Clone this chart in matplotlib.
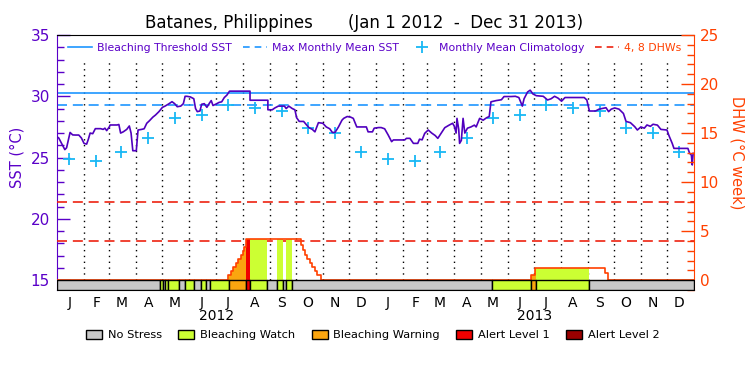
import numpy as np
import pandas as pd
import matplotlib
matplotlib.use("Agg")
import matplotlib.pyplot as plt
from matplotlib.lines import Line2D
from matplotlib.patches import Patch
from matplotlib.ticker import MultipleLocator


# DATA

START = "2012-01-01"
END = "2013-12-31"
MONTH_LABELS = list("JFMAMJJASOND")
YEARS = ["2012", "2013"]

# monthly mean climatology (degC), Jan..Dec
CLIM_SST = [24.86, 24.75, 25.43, 26.57, 28.20, 28.47, 29.25, 29.07, 28.80, 27.44, 26.98, 25.43]
MMM = 29.25
THRESHOLD = 30.25
DHW_LINES = [4, 8]

# daily SST (day since Jan 1 2012, degC)
SST_DAY = [0, 2, 5, 9, 11, 15, 18, 21, 25, 28, 31, 34, 36, 38, 41, 44, 50, 53, 55, 57, 60,
           61, 69, 71, 73, 76, 80, 83, 85, 87, 91, 93, 97, 100, 103, 106, 110, 113, 117,
           121, 124, 128, 132, 135, 138, 142, 145, 147, 149, 153, 157, 159, 161, 164, 166,
           169, 172, 175, 177, 179, 182, 186, 189, 192, 195, 198, 221.5, 221.5, 242, 242,
           247, 250, 254, 261, 263, 266, 270, 273, 275, 278, 283, 286, 289, 293, 296, 300,
           305, 309, 313, 316, 319, 323, 327, 329, 333, 337, 340, 344, 355, 357, 362, 364,
           369, 372, 376, 380, 384, 386, 399, 401, 405, 409, 414, 416, 419, 422, 426, 430,
           434, 437, 441, 445, 450, 454, 456, 458, 459, 461, 462, 464, 466, 468, 471, 475,
           479, 481, 485, 489, 493, 496, 498, 504, 510, 513, 521, 526, 530, 534, 536, 540,
           543, 546, 550, 558, 563, 567, 571, 575, 579, 583, 605, 608, 611, 618, 622, 630,
           633, 636, 640, 645, 650, 653, 658, 663, 666, 670, 674, 677, 681, 684, 689, 693,
           700, 702, 706, 708, 724, 726, 728, 729, 730]
SST_VAL = [26.70, 26.60, 26.20, 25.65, 25.80, 27.05, 26.85, 26.84, 26.84, 26.60, 26.16, 26.10,
           26.50, 27.00, 26.95, 27.36, 27.36, 27.30, 27.40, 27.20, 27.50, 27.66, 27.66, 27.70,
           27.00, 27.10, 27.30, 27.58, 27.00, 25.56, 25.56, 27.25, 27.30, 27.35, 27.80, 28.00,
           28.30, 28.47, 28.75, 29.10, 29.20, 29.37, 29.56, 29.40, 29.15, 29.20, 29.40, 30.00,
           30.00, 29.95, 29.80, 29.00, 28.75, 28.80, 29.35, 29.40, 29.10, 29.45, 29.65, 29.25,
           29.35, 29.50, 29.55, 29.90, 30.10, 30.42, 30.42, 29.68, 29.68, 28.90, 28.90, 29.05,
           29.20, 29.20, 29.00, 29.20, 29.00, 28.90, 28.25, 27.95, 27.95, 27.70, 27.45, 27.30,
           27.10, 27.85, 27.80, 27.50, 27.35, 27.05, 27.05, 27.50, 28.05, 28.20, 28.35, 28.30,
           28.20, 27.50, 27.50, 27.10, 27.10, 27.40, 27.45, 27.45, 27.35, 26.85, 26.30, 26.44,
           26.44, 26.57, 26.57, 26.16, 26.16, 26.50, 26.45, 26.98, 27.25, 27.00, 26.80, 26.57,
           27.00, 27.44, 27.65, 27.80, 27.55, 27.00, 28.20, 27.30, 26.16, 26.40, 28.20, 27.00,
           27.40, 27.50, 27.65, 27.50, 28.20, 28.05, 28.25, 28.35, 29.55, 29.65, 29.72, 29.98,
           29.98, 30.00, 29.90, 29.20, 29.80, 30.35, 30.50, 30.20, 30.05, 30.00, 29.70, 29.80,
           30.00, 29.85, 29.60, 29.90, 29.90, 29.70, 28.80, 28.80, 28.95, 29.07, 28.75, 28.95,
           29.05, 28.95, 28.60, 27.95, 27.85, 27.52, 27.25, 27.50, 27.40, 27.66, 27.55, 27.72,
           27.65, 27.30, 27.25, 26.84, 26.16, 25.75, 25.75, 25.35, 25.20, 24.40, 25.35]

# degree heating weeks (step values starting at each day)
DHW_DAY = [0, 196.6, 199.7, 202.3, 205.1, 208.1, 210.8, 213.1, 215.0, 216.9,
           279.7, 281.9, 284.6, 287.2, 290.3, 292.9, 296.1, 298.7, 302.6,
           543.6, 548.5, 629.0, 632.0]
DHW_VAL = [0, 0.56, 0.90, 1.35, 1.79, 2.20, 2.60, 2.95, 3.39, 4.17,
           3.56, 3.05, 2.60, 2.20, 1.76, 1.35, 0.90, 0.56, 0,
           0.50, 1.21, 0.75, 0]

# daily stress level: 0 no stress, 1 watch, 2 warning, 3 alert 1, 4 alert 2
STRESS_START = [0, 118, 122, 124, 127, 140, 147, 157, 165, 171, 176, 197, 217, 221, 241, 252, 259, 263, 270, 499, 544, 550, 611]
STRESS_END = [118, 122, 124, 127, 140, 147, 157, 165, 171, 176, 197, 217, 221, 241, 252, 259, 263, 270, 499, 544, 550, 611, 731]
STRESS_LEVEL = [0, 1, 0, 1, 1, 0, 1, 0, 1, 0, 1, 2, 3, 1, 0, 1, 0, 1, 0, 1, 2, 1, 0]

STRESS_NAMES = ["No Stress", "Bleaching Watch", "Bleaching Warning", "Alert Level 1", "Alert Level 2"]
STRESS_COLORS = ["#C8C8C8", "#CCFF33", "#FAA50F", "#F00000", "#990000"]


# STYLE

PURPLE = "#5A00C8"
SST_COLOR = "#5000BE"
BLUE = "#1E96FF"
CYAN = "#18B8F5"
ORANGE = "#FF4000"
DASH_RED = "#EE2211"

plt.rcParams["font.family"] = ["DejaVu Sans"]


# DAYS

t0 = pd.Timestamp(START)
total_days = (pd.Timestamp(END) - t0).days + 1
month_starts = np.array((pd.date_range(START, END, freq="MS") - t0).days)
mid_months = month_starts + 14
clim_y = CLIM_SST * len(YEARS)


def dhw_at(x):
    idx = np.searchsorted(DHW_DAY, x, side="right") - 1
    return np.array(DHW_VAL)[idx]


# PLOT

fig = plt.figure(figsize=(7.5, 3.75), dpi=100)
ax = fig.add_axes([57 / 750, 85 / 375, 637 / 750, 255 / 375])
ax2 = ax.twinx()

ax.set_xlim(0, total_days)
ax.set_ylim(14.2, 35.0)
ax2.set_ylim(-1.0, 25.0)

# month separators
ax.vlines(month_starts[1:], 15, 32.8, colors="black", linestyles=(0, (1, 3.2)), lw=1.0, zorder=1)

# climatology lines and crosses
ax.axhline(THRESHOLD, color=BLUE, lw=1.2, zorder=2)
ax.axhline(MMM, color=BLUE, lw=1.2, ls=(0, (6, 3.5)), zorder=2)
ax.plot(mid_months, clim_y, ls="none", marker="+", ms=9, mew=1.3, color=CYAN, zorder=3)

# SST
ax.plot(SST_DAY, SST_VAL, color=SST_COLOR, lw=1.2, zorder=4)

# DHW thresholds
for lvl in DHW_LINES:
    ax2.axhline(lvl, color=DASH_RED, lw=1.2, ls=(0, (6, 3.5)), zorder=2)

# stress fill under DHW
for s, e, lev in zip(STRESS_START, STRESS_END, STRESS_LEVEL):
    if lev == 0:
        continue
    xs = [s] + [d for d in DHW_DAY if s < d < e] + [e]
    ax2.fill_between(xs, 0, dhw_at(xs), step="post", color=STRESS_COLORS[lev], lw=0, zorder=3)

# DHW line
ax2.step(DHW_DAY + [total_days], DHW_VAL + [0], where="post", color=ORANGE, lw=1.2, zorder=4)

# stress band
for s, e, lev in zip(STRESS_START, STRESS_END, STRESS_LEVEL):
    ax2.broken_barh([(s, e - s)], (-1.0, 1.0), facecolors=STRESS_COLORS[lev],
                    edgecolors="black", lw=1.0, zorder=5)

# AXES

ax.yaxis.set_major_locator(MultipleLocator(5))
ax.yaxis.set_minor_locator(MultipleLocator(1))
ax2.yaxis.set_major_locator(MultipleLocator(5))
ax2.yaxis.set_minor_locator(MultipleLocator(1))

ax.tick_params(axis="y", which="both", direction="in", colors=PURPLE, labelsize=11, pad=5)
ax.tick_params(axis="y", which="major", length=9.5, width=1)
ax.tick_params(axis="y", which="minor", length=5, width=1)
ax2.tick_params(axis="y", which="both", direction="in", colors=ORANGE, labelsize=11, pad=4)
ax2.tick_params(axis="y", which="major", length=9.5, width=1)
ax2.tick_params(axis="y", which="minor", length=5, width=1)

ax.set_xticks(mid_months)
ax.set_xticklabels(MONTH_LABELS * len(YEARS))
ax.tick_params(axis="x", length=0, pad=4, labelsize=10)

for i, yr in enumerate(YEARS):
    ax.text(mid_months[12 * i + 5] + 17, -0.10, yr, transform=ax.get_xaxis_transform(),
            ha="center", va="center", fontsize=10)

ax.spines["left"].set_color(PURPLE)
ax.spines["right"].set_visible(False)
ax2.spines["left"].set_visible(False)
ax2.spines["right"].set_color(ORANGE)
ax2.spines["top"].set_visible(False)
ax2.spines["bottom"].set_visible(False)

ax.set_ylabel("SST (°C)", color=PURPLE, fontsize=10.5, va="center")
ax.yaxis.set_label_coords(-0.063, 0.52)
ax2.set_ylabel("DHW (°C week)", color=ORANGE, fontsize=10.5, rotation=270, va="center")
ax2.yaxis.set_label_coords(1.067, 0.54)

fig.text(145 / 750, 1 - 23 / 375, "Batanes, Philippines", ha="left", va="center", fontsize=12)
fig.text(348 / 750, 1 - 23 / 375, "(Jan 1 2012  -  Dec 31 2013)", ha="left", va="center", fontsize=12)

# top legend
handles = [
    Line2D([], [], color=BLUE, lw=1.2),
    Line2D([], [], color=BLUE, lw=1.2, ls=(0, (4, 3))),
    Line2D([], [], color=CYAN, ls="none", marker="+", ms=8, mew=1.3),
    Line2D([], [], color=DASH_RED, lw=1.2, ls=(0, (4, 3))),
]
labels = ["Bleaching Threshold SST", "Max Monthly Mean SST", "Monthly Mean Climatology", "4, 8 DHWs"]
leg = fig.legend(handles, labels, loc="upper left", bbox_to_anchor=(68 / 750, 1 - 43 / 375),
                 ncol=4, frameon=False, fontsize=7.8, handlelength=2.2, handletextpad=0.5,
                 columnspacing=1.0, borderpad=0, borderaxespad=0)
for txt, c in zip(leg.get_texts(), [PURPLE, PURPLE, PURPLE, ORANGE]):
    txt.set_color(c)

# bottom legend
patches = [Patch(facecolor=c, edgecolor="black", lw=1.0) for c in STRESS_COLORS]
fig.legend(patches, STRESS_NAMES, loc="center left", bbox_to_anchor=(86 / 750, 1 - 335 / 375),
           ncol=5, frameon=False, fontsize=8.2, handlelength=1.4, handleheight=0.95,
           handletextpad=0.5, columnspacing=1.45, borderpad=0, borderaxespad=0)

fig.savefig("out.png", dpi=100)
